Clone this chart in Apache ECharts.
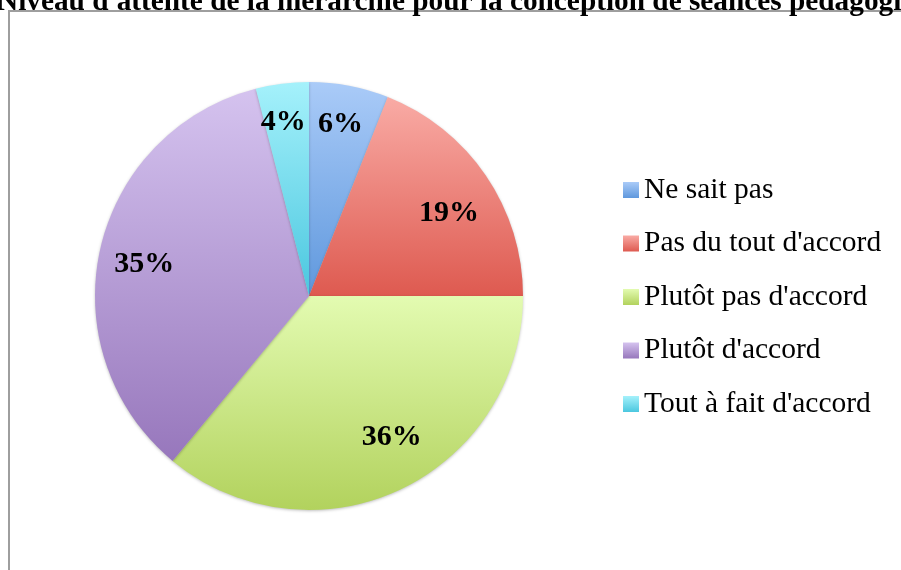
<!DOCTYPE html>
<html>
<head>
<meta charset="UTF-8">
<title>Niveau d'attente</title>
<script type="text/javascript" src="https://cdn.jsdelivr.net/npm/echarts@6/dist/echarts.min.js"></script>
<style>
body { margin: 0; background: #fff; }
#main { width: 901px; height: 570px; }
</style>
</head>
<body>
<div id="main"></div>
<script type="text/javascript">
var titre = "Niveau d'attente de la hiérarchie pour la conception de séances pédagogiques";
var categories = ['Ne sait pas', "Pas du tout d'accord", "Plutôt pas d'accord", "Plutôt d'accord", "Tout à fait d'accord"];
var valeurs = [6, 19, 36, 35, 4];
// couleur haut / bas de chaque part (dégradé vertical)
var haut = ['#aacbf8', '#f9aba5', '#e3fbb1', '#d5c3ef', '#a5f1fb'];
var bas = ['#5f98dd', '#de5a50', '#b2d25d', '#9777bc', '#4bc7df'];
// petits décalages des étiquettes (placement façon Excel)
var decalages = [[-1, -2], [-3, 14], [9, -15], [4, 6], [-4, -2]];

function degrade(i) {
	return new echarts.graphic.LinearGradient(0, 0, 0, 1, [
		{ offset: 0, color: haut[i] },
		{ offset: 1, color: bas[i] }
	]);
}

var donnees = categories.map(function (c, i) {
	return { name: c, value: valeurs[i], itemStyle: { color: degrade(i) } };
});
var etiquettes = categories.map(function (c, i) {
	return { name: c, value: valeurs[i], label: { offset: decalages[i] } };
});

var myChart = echarts.init(document.getElementById('main'));
var police = '"Liberation Serif", "Times New Roman", serif';

var option = {
	animation: false,
	title: {
		text: titre,
		left: -3,
		top: -12,
		padding: 0,
		textStyle: { fontFamily: police, fontSize: 29.3, fontWeight: 'bold', color: '#000', lineHeight: 29 }
	},
	graphic: [{
		type: 'rect',
		shape: { x: 9, y: 11, width: 1200, height: 1000 },
		style: { fill: null, stroke: '#9e9e9e', lineWidth: 2 },
		z: -1
	}],
	legend: {
		orient: 'vertical',
		left: 623,
		top: 175,
		padding: 0,
		itemWidth: 16,
		itemHeight: 16,
		itemGap: 23.5,
		icon: 'rect',
		data: categories,
		textStyle: { fontFamily: police, fontSize: 29.5, color: '#000', lineHeight: 28 }
	},
	series: [
		{
			name: 'parts',
			type: 'pie',
			center: [309, 296],
			radius: [0, 214],
			startAngle: 90,
			clockwise: true,
			silent: true,
			label: { show: false },
			labelLine: { show: false },
			itemStyle: { shadowBlur: 3, shadowColor: 'rgba(0,0,0,0.25)', shadowOffsetY: 1 },
			data: donnees
		},
		{
			name: 'etiquettes',
			type: 'pie',
			center: [309, 296],
			radius: [126, 214],
			startAngle: 90,
			clockwise: true,
			silent: true,
			legendHoverLink: false,
			itemStyle: { color: 'rgba(0,0,0,0)' },
			label: {
				show: true,
				position: 'inside',
				formatter: function (p) { return Math.round(p.percent) + '%'; },
				fontFamily: police,
				fontSize: 30,
				fontWeight: 'bold',
				color: '#000'
			},
			labelLine: { show: false },
			data: etiquettes
		}
	]
};
myChart.setOption(option);
</script>
</body>
</html>
